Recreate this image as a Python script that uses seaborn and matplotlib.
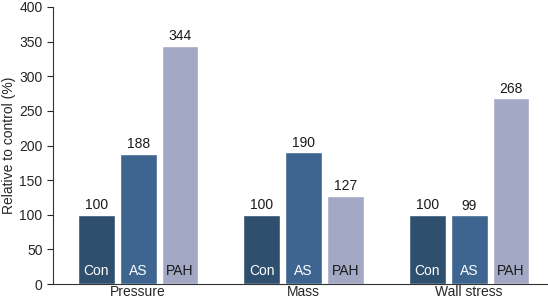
import matplotlib
matplotlib.use("Agg")
import matplotlib.pyplot as plt
import seaborn as sns
import pandas as pd

categories = ["Pressure", "Mass", "Wall stress"]
groups = ["Con", "AS", "PAH"]
con_values = [100, 100, 100]
as_values = [188, 190, 99]
pah_values = [344, 127, 268]

rows = []
for i, c in enumerate(categories):
    rows.append({"cat": c, "grp": "Con", "val": con_values[i]})
    rows.append({"cat": c, "grp": "AS", "val": as_values[i]})
    rows.append({"cat": c, "grp": "PAH", "val": pah_values[i]})
df = pd.DataFrame(rows)

sns.set_style("ticks")
plt.rcParams["font.family"] = ["Liberation Sans", "DejaVu Sans"]

palette = {"Con": "#2f4f6f", "AS": "#3d6590", "PAH": "#a3a8c4"}
text_colors = {"Con": "white", "AS": "white", "PAH": "#1a1a1a"}

fig = plt.figure(figsize=(5.48, 3.0), dpi=100)
ax = fig.add_axes([53 / 548, 16 / 300, 495 / 548, 277 / 300])

sns.barplot(data=df, x="cat", y="val", hue="grp", hue_order=groups,
            palette=palette, width=0.76, gap=0.12, saturation=1,
            legend=False, ax=ax)

for cont, g in zip(ax.containers, groups):
    ax.bar_label(cont, fmt="%d", padding=2, fontsize=10, color="#1a1a1a")
    for p in cont.patches:
        ax.text(p.get_x() + p.get_width() / 2, 9, g, ha="center", va="bottom",
                fontsize=10, color=text_colors[g])

ax.set_ylim(0, 400)
ax.set_yticks(range(0, 401, 50))
ax.set_xlim(-0.514, 2.477)
ax.set_xlabel("")
ax.set_ylabel("Relative to control (%)", fontsize=10)
ax.yaxis.set_label_coords(-0.075, 0.5)
ax.tick_params(axis="y", labelsize=10, length=4, width=0.8)
ax.tick_params(axis="x", labelsize=10, length=0, pad=1)
sns.despine(ax=ax)
for s in ["left", "bottom"]:
    ax.spines[s].set_linewidth(0.8)
    ax.spines[s].set_color("#333333")

fig.savefig("out.png", dpi=100)
